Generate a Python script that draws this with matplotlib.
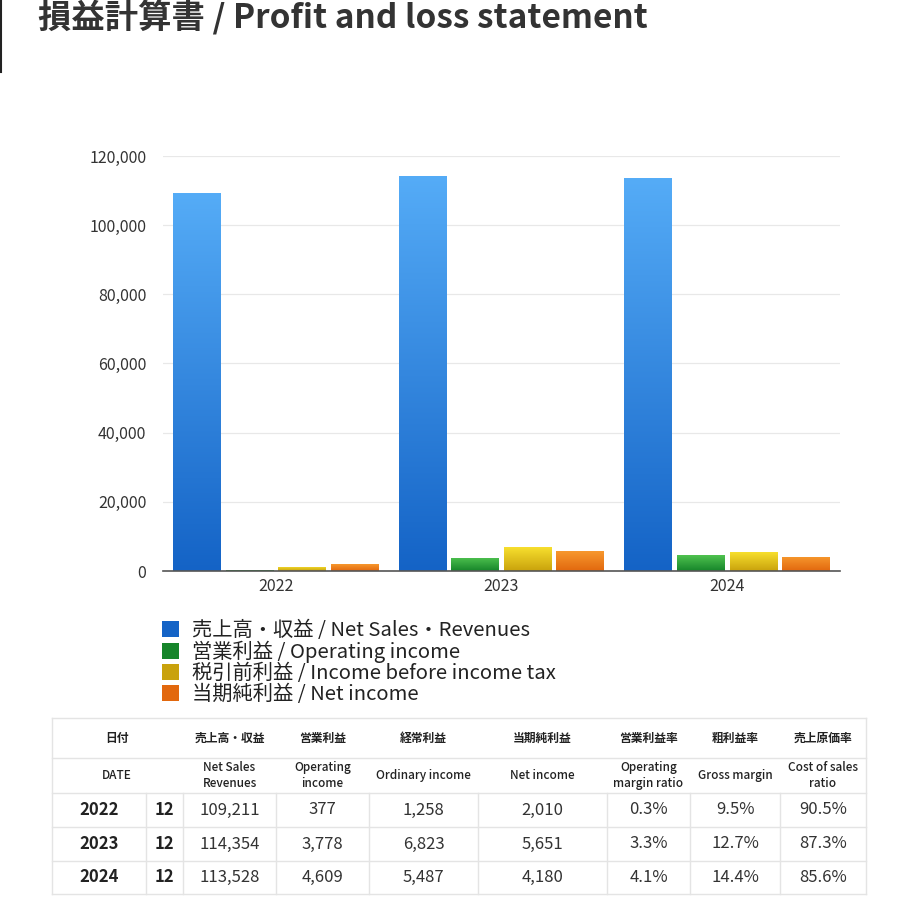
import numpy as np
import matplotlib
matplotlib.use('Agg')
import matplotlib.pyplot as plt
from matplotlib.colors import LinearSegmentedColormap
from matplotlib.patches import Patch

plt.rcParams['font.family'] = ['Noto Sans CJK JP', 'DejaVu Sans']

# --- data ---
years = ['2022', '2023', '2024']
months = ['12', '12', '12']
net_sales = [109211, 114354, 113528]
operating_income = [377, 3778, 4609]
ordinary_income = [1258, 6823, 5487]
net_income = [2010, 5651, 4180]
op_margin = ['0.3%', '3.3%', '4.1%']
gross_margin = ['9.5%', '12.7%', '14.4%']
cost_ratio = ['90.5%', '87.3%', '85.6%']

series_labels = ['売上高・収益 / Net Sales・Revenues',
                 '営業利益 / Operating income',
                 '税引前利益 / Income before income tax',
                 '当期純利益 / Net income']
header_jp = ['日付', '売上高・収益', '営業利益', '経常利益', '当期純利益',
             '営業利益率', '粗利益率', '売上原価率']
header_en = ['DATE', 'Net Sales\nRevenues', 'Operating\nincome', 'Ordinary income',
             'Net income', 'Operating\nmargin ratio', 'Gross margin', 'Cost of sales\nratio']

# gradient colours (top, bottom) per series
grads = [('#55acf7', '#1463c6'),
         ('#4fc24f', '#16852a'),
         ('#f7df2e', '#c9a20c'),
         ('#f7982e', '#e2680e')]

W, H = 922, 897
fig = plt.figure(figsize=(W / 100, H / 100), dpi=100)

def fx(px):
    return px / W

def fy(py):
    return 1 - py / H

# --- chart ---
ax_left, ax_right, ax_top, ax_bot = 163, 840, 156, 571
ax = fig.add_axes([fx(ax_left), fy(ax_bot), fx(ax_right - ax_left), (ax_bot - ax_top) / H])

series = [net_sales, operating_income, ordinary_income, net_income]
x = np.arange(len(years))
step = 0.233
width = 0.212
grad_img = np.linspace(1, 0, 256).reshape(-1, 1)
for i, (vals, (ctop, cbot)) in enumerate(zip(series, grads)):
    cmap = LinearSegmentedColormap.from_list('g%d' % i, [cbot, ctop])
    pos = x + (i - 1.5) * step
    # solid fill underneath so very small bars still show up
    bars = ax.bar(pos, vals, width=width, color=cbot, edgecolor='none', zorder=2)
    for b in bars:
        x0, y0 = b.get_x(), b.get_y()
        im = ax.imshow(grad_img, cmap=cmap, aspect='auto', zorder=2.1,
                       extent=(x0, x0 + b.get_width(), y0, y0 + b.get_height()),
                       origin='upper', vmin=0, vmax=1)
        im.set_clip_path(b)

ax.set_xlim(-0.5, 2.5)
ax.set_ylim(0, 120000)
ax.set_yticks(np.arange(0, 120001, 20000))
ax.set_yticklabels(['{:,}'.format(v) for v in range(0, 120001, 20000)])
ax.set_xticks(x)
ax.set_xticklabels(years)
ax.tick_params(axis='both', length=0, labelsize=11.5, colors='#333333')
ax.tick_params(axis='y', pad=12)
ax.tick_params(axis='x', pad=5)
ax.grid(axis='y', color='#e8e8e8', linewidth=0.9, zorder=0)
ax.set_axisbelow(True)
for s in ['top', 'right', 'left']:
    ax.spines[s].set_visible(False)
ax.spines['bottom'].set_color('#555555')
ax.spines['bottom'].set_linewidth(1.2)

# legend
handles = [Patch(facecolor=c[1], edgecolor='none') for c in grads]
leg = fig.legend(handles, series_labels, loc='upper left',
                 bbox_to_anchor=(fx(162), fy(620)), frameon=False,
                 fontsize=14.6, handlelength=0.85, handleheight=0.85,
                 handletextpad=0.65, labelspacing=0.0, borderaxespad=0,
                 borderpad=0)
for t in leg.get_texts():
    t.set_color('#222222')

# title and left line
fig.text(fx(38), fy(18), '損益計算書 / Profit and loss statement', fontsize=24,
         fontweight='bold', color='#333333', va='center', ha='left')
ov = fig.add_axes([0, 0, 1, 1], zorder=-1)
ov.set_xlim(0, W)
ov.set_ylim(H, 0)
ov.axis('off')
ov.plot([1, 1], [0, 72], color='#222222', linewidth=1.5)

# --- table ---
tl, tr = 52, 866
row_y = [718, 758, 793, 827, 861, 894]
col_b = [52, 183, 276, 369, 478, 607, 690, 780, 866]
line_c = '#e4e4e4'
for yy in row_y:
    ov.plot([tl, tr], [yy, yy], color=line_c, linewidth=1)
ov.plot([tl, tl], [row_y[0], row_y[-1]], color=line_c, linewidth=1)
ov.plot([tr, tr], [row_y[0], row_y[-1]], color=line_c, linewidth=1)
for xb in [146] + col_b[1:-1]:
    ov.plot([xb, xb], [row_y[2], row_y[-1]], color=line_c, linewidth=1)

centers = [117] + [(col_b[i] + col_b[i + 1]) / 2 for i in range(1, len(col_b) - 1)]
for cx, hj, he in zip(centers, header_jp, header_en):
    ov.text(cx, (row_y[0] + row_y[1]) / 2, hj, fontsize=8.5, fontweight='bold',
            color='#222222', ha='center', va='center')
    ov.text(cx, (row_y[1] + row_y[2]) / 2, he, fontsize=8.5, fontweight='medium',
            color='#222222', ha='center', va='center', linespacing=1.35)

cells = list(zip(net_sales, operating_income, ordinary_income, net_income,
                 op_margin, gross_margin, cost_ratio))
for r, (yr, mo, row) in enumerate(zip(years, months, cells)):
    cy = (row_y[2 + r] + row_y[3 + r]) / 2
    ov.text(99, cy, yr, fontsize=12, fontweight='bold', color='#222222',
            ha='center', va='center')
    ov.text(164, cy, mo, fontsize=12, fontweight='bold', color='#222222',
            ha='center', va='center')
    for j, v in enumerate(row):
        s = '{:,}'.format(v) if isinstance(v, int) else v
        ov.text(centers[j + 1], cy, s, fontsize=12, color='#333333',
                ha='center', va='center')

fig.savefig('out.png', dpi=100)
